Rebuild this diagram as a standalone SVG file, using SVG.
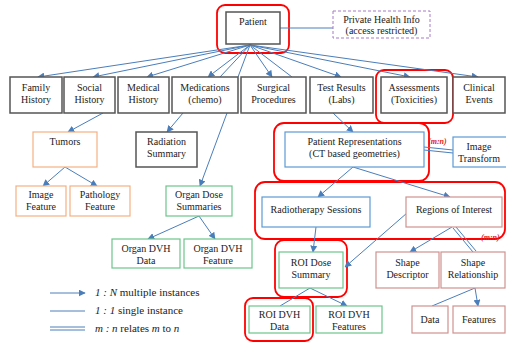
<svg xmlns="http://www.w3.org/2000/svg" width="506" height="343" viewBox="0 0 506 343">
<defs>
<marker id="arr" viewBox="0 0 10 10" refX="9" refY="5" markerWidth="7" markerHeight="7" orient="auto" markerUnits="userSpaceOnUse">
<path d="M0,0 L10,5 L0,10 z" fill="#4a7ebb"/>
</marker>
<style>
text{font-family:"Liberation Serif","Times New Roman",serif;font-size:10px;fill:#222;text-anchor:middle}
.gray{fill:#fff;stroke:#555;stroke-width:1.5}
.org{fill:#fff;stroke:#f4b183;stroke-width:1.2}
.grn{fill:#fff;stroke:#6cc58a;stroke-width:1.2}
.blu{fill:#fff;stroke:#5b9bd5;stroke-width:1.2}
.pnk{fill:#fff;stroke:#d09290;stroke-width:1.2}
.red{fill:none;stroke:#ff0000;stroke-width:1.8}
.c{stroke:#4a7ebb;stroke-width:1;fill:none}
.a{stroke:#4a7ebb;stroke-width:1;fill:none;marker-end:url(#arr)}
.mn{font-size:8px;font-style:italic;font-weight:bold;fill:#e02020;text-anchor:start}
.leg{font-size:11px;text-anchor:start}
</style>
</defs>
<rect width="506" height="343" fill="#fff"/>

<g id="highlights">
<rect class="red" x="217" y="5" width="72" height="48" rx="8"/>
<rect class="red" x="376" y="70" width="77" height="53" rx="8"/>
<rect class="red" x="274" y="123" width="155" height="58" rx="10"/>
<rect class="red" x="255" y="182" width="250" height="57" rx="10"/>
<rect class="red" x="275" y="240" width="72" height="57" rx="9"/>
<rect class="red" x="245" y="298" width="68" height="43" rx="8"/>
</g>

<g id="connectors">
<line class="c" x1="280" y1="28" x2="333" y2="28"/>
<line class="a" x1="250" y1="45" x2="38" y2="77"/>
<line class="a" x1="250" y1="45" x2="93" y2="77"/>
<line class="a" x1="250" y1="45" x2="147" y2="77"/>
<line class="a" x1="250" y1="45" x2="208" y2="77"/>
<line class="c" x1="250" y1="45" x2="220" y2="77"/>
<line class="c" x1="250" y1="45" x2="238" y2="77"/>
<line class="a" x1="250" y1="45" x2="272" y2="77"/>
<line class="c" x1="250" y1="45" x2="292" y2="77"/>
<line class="a" x1="250" y1="45" x2="341" y2="77"/>
<line class="a" x1="250" y1="45" x2="410" y2="77"/>
<line class="a" x1="250" y1="45" x2="478" y2="77"/>
<line class="a" x1="103" y1="113" x2="68" y2="132"/>
<line class="a" x1="183" y1="113" x2="167" y2="132"/>
<line class="a" x1="227" y1="113" x2="200" y2="186"/>
<line class="a" x1="65" y1="167" x2="43" y2="186"/>
<line class="a" x1="65" y1="167" x2="97" y2="186"/>
<line class="a" x1="199" y1="216" x2="148" y2="239"/>
<line class="a" x1="199" y1="216" x2="215" y2="239"/>
<line class="a" x1="333" y1="113" x2="353" y2="132"/>
<line class="c" x1="424" y1="147" x2="453" y2="150"/>
<line class="c" x1="424" y1="150" x2="453" y2="153"/>
<line class="a" x1="353" y1="167" x2="318" y2="197"/>
<line class="a" x1="353" y1="167" x2="450" y2="197"/>
<line class="a" x1="316" y1="227" x2="313" y2="252"/>
<line class="a" x1="407" y1="213" x2="345" y2="267"/>
<line class="a" x1="452" y1="227" x2="410" y2="252"/>
<line class="c" x1="453" y1="228" x2="473" y2="252"/>
<line class="c" x1="456" y1="227" x2="476" y2="251"/>
<line class="c" x1="310" y1="288" x2="280" y2="306"/>
<line class="a" x1="310" y1="288" x2="347" y2="306"/>
<line class="c" x1="475" y1="288" x2="432" y2="306"/>
<line class="a" x1="475" y1="288" x2="478" y2="306"/>
</g>

<g id="patient"><rect class="gray" x="226" y="12" width="54" height="32"/><text x="253" y="25">Patient</text></g>
<g id="phi"><rect x="333" y="11" width="97" height="27" fill="#fff" stroke="#a77bc9" stroke-width="1" stroke-dasharray="3,2"/><text x="381.5" y="23">Private Health Info</text><text x="381.5" y="34">(access restricted)</text></g>

<g id="family"><rect class="gray" x="10" y="77" width="52" height="36"/><text x="36" y="91">Family</text><text x="36" y="103">History</text></g>
<g id="social"><rect class="gray" x="64" y="77" width="51" height="36"/><text x="89.5" y="91">Social</text><text x="89.5" y="103">History</text></g>
<g id="medical"><rect class="gray" x="118" y="77" width="51" height="36"/><text x="143.5" y="91">Medical</text><text x="143.5" y="103">History</text></g>
<g id="medications"><rect class="gray" x="172" y="77" width="66" height="36"/><text x="205" y="91">Medications</text><text x="205" y="103">(chemo)</text></g>
<g id="surgical"><rect class="gray" x="241" y="77" width="65" height="36"/><text x="273.5" y="91">Surgical</text><text x="273.5" y="103">Procedures</text></g>
<g id="tests"><rect class="gray" x="310" y="77" width="63" height="36"/><text x="341.5" y="91">Test Results</text><text x="341.5" y="103">(Labs)</text></g>
<g id="assessments"><rect class="gray" x="381" y="77" width="66" height="36"/><text x="414" y="91">Assessments</text><text x="414" y="103">(Toxicities)</text></g>
<g id="clinical"><rect class="gray" x="453" y="77" width="52" height="36"/><text x="479" y="91">Clinical</text><text x="479" y="103">Events</text></g>

<g id="tumors"><rect class="org" x="33" y="132" width="64" height="35"/><text x="65" y="145">Tumors</text></g>
<g id="radiation"><rect class="gray" x="136" y="132" width="61" height="35"/><text x="166.5" y="145">Radiation</text><text x="166.5" y="157">Summary</text></g>
<g id="imagefeature"><rect class="org" x="16" y="186" width="50" height="30"/><text x="41" y="198">Image</text><text x="41" y="210">Feature</text></g>
<g id="pathology"><rect class="org" x="70" y="186" width="60" height="30"/><text x="100" y="198">Pathology</text><text x="100" y="210">Feature</text></g>
<g id="organdose"><rect class="grn" x="166" y="186" width="66" height="30"/><text x="199" y="198">Organ Dose</text><text x="199" y="210">Summaries</text></g>
<g id="organdvhdata"><rect class="grn" x="112" y="239" width="68" height="29"/><text x="146" y="252">Organ DVH</text><text x="146" y="264">Data</text></g>
<g id="organdvhfeature"><rect class="grn" x="184" y="239" width="68" height="29"/><text x="218" y="252">Organ DVH</text><text x="218" y="264">Feature</text></g>

<g id="patientrep"><rect class="blu" x="285" y="132" width="139" height="35"/><text x="354.5" y="145">Patient Representations</text><text x="354.5" y="157">(CT based geometries)</text></g>
<text class="mn" x="428" y="144">(m:n)</text>
<g id="imagetransform"><rect class="blu" x="453" y="137" width="55" height="30"/><text x="479" y="150">Image</text><text x="479" y="162">Transform</text></g>
<g id="radiotherapy"><rect class="blu" x="262" y="197" width="108" height="30"/><text x="316" y="213">Radiotherapy Sessions</text></g>
<g id="roi"><rect class="pnk" x="406" y="197" width="96" height="30"/><text x="454" y="213">Regions of Interest</text></g>
<text class="mn" x="481" y="240">(m:n)</text>
<g id="roidose"><rect class="grn" x="279" y="252" width="64" height="36"/><text x="311" y="266">ROI Dose</text><text x="311" y="278">Summary</text></g>
<g id="shapedesc"><rect class="pnk" x="376" y="252" width="63" height="36"/><text x="407.5" y="266">Shape</text><text x="407.5" y="278">Descriptor</text></g>
<g id="shaperel"><rect class="pnk" x="441" y="252" width="64" height="36"/><text x="473" y="266">Shape</text><text x="473" y="278">Relationship</text></g>
<g id="roidvhdata"><rect class="grn" x="249" y="306" width="61" height="27"/><text x="279.5" y="318">ROI DVH</text><text x="279.5" y="330">Data</text></g>
<g id="roidvhfeatures"><rect class="grn" x="316" y="306" width="66" height="27"/><text x="349" y="318">ROI DVH</text><text x="349" y="330">Features</text></g>
<g id="data"><rect class="pnk" x="412" y="306" width="36" height="27"/><text x="430" y="323">Data</text></g>
<g id="features"><rect class="pnk" x="453" y="306" width="52" height="27"/><text x="479" y="323">Features</text></g>

<g id="legend">
<line class="a" x1="50" y1="293" x2="85" y2="293"/>
<line class="c" x1="50" y1="311" x2="85" y2="311"/>
<line class="c" x1="50" y1="327" x2="85" y2="327"/>
<line class="c" x1="50" y1="330" x2="85" y2="330"/>
<text class="leg" x="95" y="296"><tspan font-style="italic">1 : N</tspan> multiple instances</text>
<text class="leg" x="95" y="314"><tspan font-style="italic">1 : 1</tspan> single instance</text>
<text class="leg" x="95" y="332"><tspan font-style="italic">m : n</tspan> relates <tspan font-style="italic">m</tspan> to <tspan font-style="italic">n</tspan></text>
</g>
</svg>
